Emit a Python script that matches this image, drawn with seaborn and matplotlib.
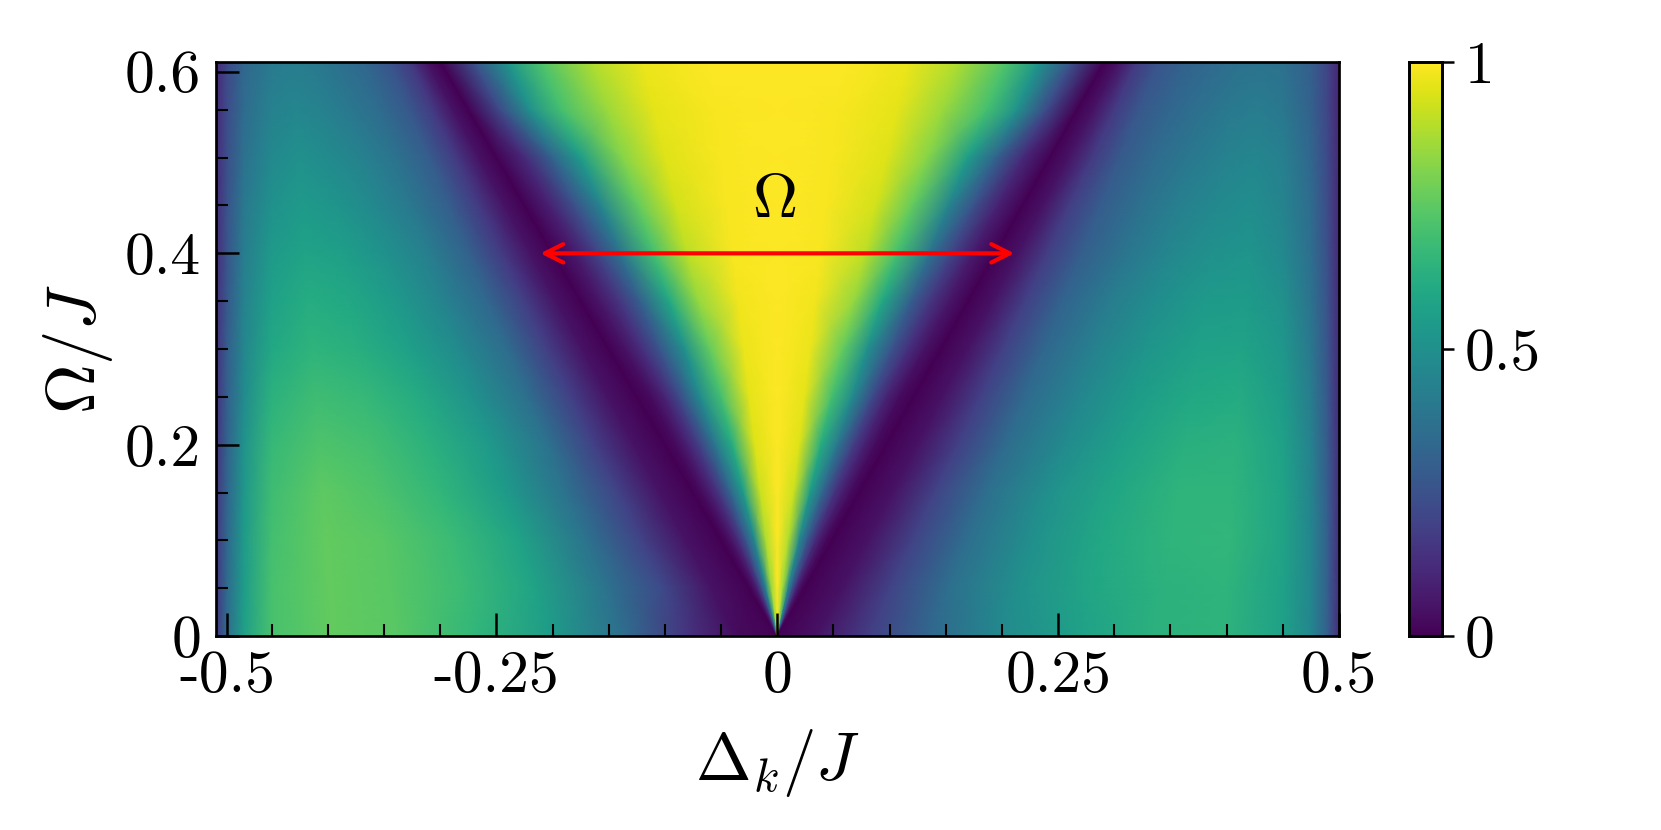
import warnings
import numpy as np
import pandas as pd
import matplotlib
matplotlib.use("Agg")
import matplotlib.pyplot as plt
import matplotlib.transforms as mtransforms
import seaborn as sns

omega_values = [0.0, 0.05, 0.10, 0.15, 0.20, 0.25, 0.30, 0.35, 0.40, 0.45, 0.50, 0.55, 0.60]

# Nodes between the centre (0) and the dip, as a fraction of the dip distance
inner_fractions = [0, .2, .4, .55, .7, .8, .9, 1]
inner_values = [
 [1,.85,.45,.25,.10,.05,.02,0],
 [1,.85,.45,.25,.10,.05,.02,0],
 [1,.88,.47,.27,.12,.06,.02,0],
 [1,.92,.55,.33,.15,.08,.03,0],
 [1,.95,.62,.40,.18,.09,.03,0],
 [1,.96,.70,.48,.22,.10,.03,0],
 [1,.97,.76,.50,.26,.14,.05,0],
 [1,.98,.84,.60,.30,.16,.06,0],
 [1,.99,.90,.70,.38,.20,.07,0],
 [1,.99,.93,.76,.45,.25,.09,0],
 [1,.99,.95,.82,.55,.32,.12,0],
 [1,.99,.96,.85,.70,.50,.22,0],
 [1,1,.97,.88,.72,.52,.25,0],
]
# Nodes outside the dip: fractions of the way to |x| = 0.45, then fixed places near the edge
outer_fractions = [.08, .18, .3, .45, .6, .75, .88, 1]
edge_positions = [.475, .49, .5]
outer_left = [
 [.03,.15,.35,.55,.66,.74,.76,.71,.56,.35,.15],
 [.05,.22,.38,.58,.68,.74,.76,.71,.55,.34,.15],
 [.05,.20,.38,.58,.68,.74,.76,.70,.54,.33,.15],
 [.05,.20,.37,.55,.66,.72,.75,.69,.53,.32,.15],
 [.05,.19,.38,.54,.64,.70,.72,.67,.51,.31,.14],
 [.05,.19,.36,.51,.61,.67,.69,.64,.48,.30,.14],
 [.05,.18,.35,.48,.57,.63,.65,.60,.46,.29,.13],
 [.05,.18,.33,.45,.54,.60,.62,.57,.44,.27,.13],
 [.05,.17,.31,.43,.51,.56,.58,.54,.42,.26,.12],
 [.05,.17,.30,.40,.47,.52,.54,.51,.40,.25,.12],
 [.05,.17,.29,.38,.44,.48,.50,.47,.37,.24,.12],
 [.05,.17,.27,.35,.40,.44,.46,.44,.35,.23,.11],
 [.05,.17,.26,.33,.37,.41,.42,.41,.33,.22,.11],
]
outer_right = [
 [.05,.18,.33,.48,.57,.64,.65,.57,.46,.30,.13],
 [.05,.20,.36,.50,.59,.64,.65,.57,.46,.30,.13],
 [.05,.20,.36,.50,.60,.65,.66,.58,.46,.30,.13],
 [.05,.20,.36,.50,.59,.65,.65,.58,.45,.29,.13],
 [.05,.19,.35,.48,.57,.63,.64,.57,.44,.28,.13],
 [.05,.19,.34,.46,.55,.60,.61,.55,.42,.27,.12],
 [.05,.19,.33,.44,.52,.57,.58,.53,.40,.26,.12],
 [.05,.19,.32,.42,.49,.54,.55,.50,.38,.25,.12],
 [.05,.18,.30,.39,.46,.50,.52,.47,.36,.24,.11],
 [.05,.18,.29,.37,.43,.47,.49,.45,.35,.23,.11],
 [.05,.17,.28,.35,.40,.44,.46,.43,.33,.22,.11],
 [.05,.17,.27,.33,.37,.41,.42,.40,.31,.21,.10],
 [.05,.17,.26,.31,.34,.37,.38,.37,.30,.20,.10],
]
dip_ratio_left = 0.5    # dip sits at |x| = ratio * Omega
dip_ratio_right = 0.485

x_major = [-0.49, -0.25, 0.0, 0.25, 0.5]
x_major_labels = ["-0.5", "-0.25", "0", "0.25", "0.5"]
x_minor = [-0.45, -0.40, -0.35, -0.30, -0.20, -0.15, -0.10, -0.05, 0.05, 0.10, 0.15, 0.20, 0.30, 0.35, 0.40, 0.45]
y_major = [0.0, 0.2, 0.4, 0.59]
y_major_labels = ["0", "0.2", "0.4", "0.6"]
y_minor = [0.05, 0.10, 0.15, 0.25, 0.30, 0.35, 0.45, 0.50, 0.55]
cbar_ticks = [0, 0.5, 1]
cbar_labels = ["0", "0.5", "1"]
arrow_span = [-0.211, 0.211]
arrow_level = 0.4

table = pd.DataFrame([(i + ol)[::-1] + (i + or_)[1:]
                      for i, ol, or_ in zip(inner_values, outer_left, outer_right)])


class NodeToData(mtransforms.Transform):
    """Place the (column, row) nodes of the table at their (Delta_k, Omega) positions."""
    input_dims = 2
    output_dims = 2
    is_separable = False
    has_inverse = False

    def transform_non_affine(self, values):
        values = np.asarray(values, dtype=float)
        centre = (len(table.columns) - 1) / 2
        col = np.rint(values[:, 0]).astype(int)
        row = np.clip(np.rint(values[:, 1]).astype(int), 0, len(omega_values) - 1)
        omega = np.asarray(omega_values)[row]
        dip = np.where(col < centre, dip_ratio_left, dip_ratio_right) * omega
        m = np.abs(col - centre).astype(int)
        n_in = len(inner_fractions)
        n_out = len(outer_fractions)
        fr_in = np.asarray(inner_fractions)
        fr_out = np.asarray(outer_fractions)
        edges = np.asarray(edge_positions)
        x = np.empty_like(omega)
        a = m < n_in
        x[a] = fr_in[m[a]] * dip[a]
        b = (m >= n_in) & (m < n_in + n_out)
        x[b] = dip[b] + fr_out[m[b] - n_in] * (0.45 - dip[b])
        c = m >= n_in + n_out
        x[c] = edges[m[c] - n_in - n_out]
        return np.column_stack([np.sign(col - centre) * x, omega])


sns.set_theme(style="white")
plt.rcParams.update({"mathtext.fontset": "cm", "axes.linewidth": 0.65, "axes.edgecolor": "black"})
warnings.filterwarnings("ignore")

W, H = 1661, 830
fig = plt.figure(figsize=(W / 300, H / 300), dpi=300, facecolor="white")
ax = fig.add_axes([215.6 / W, (H - 636) / H, 1123.4 / W, 574 / H])
cax = fig.add_axes([1409 / W, (H - 636) / H, 33 / W, 574 / H])

sns.heatmap(table, ax=ax, cbar_ax=cax, cmap="viridis", vmin=0, vmax=1, shading="gouraud",
            xticklabels=False, yticklabels=False, linewidths=0, rasterized=True,
            transform=NodeToData() + ax.transData)

ax.set_xlim(-0.5, 0.5)
ax.set_ylim(0, 0.6)
ax.set_axisbelow(False)
ax.set_xticks(x_major, x_major_labels)
ax.set_xticks(x_minor, minor=True)
ax.set_yticks(y_major, y_major_labels)
ax.set_yticks(y_minor, minor=True)
ax.tick_params(which="major", direction="in", length=5.6, width=0.6, color="black", pad=3.5,
               labelsize=14.3, labelcolor="black", bottom=True, left=True)
ax.tick_params(which="minor", direction="in", length=2.9, width=0.5, color="black", bottom=True, left=True)
for lab in ax.get_xticklabels() + ax.get_yticklabels():
    lab.set_family("cmr10")
for s in ax.spines.values():
    s.set_visible(True)
    s.set_linewidth(0.65)
    s.set_color("black")

ax.set_xlabel(r"$\Delta_k/J$", fontsize=16, color="black")
ax.xaxis.set_label_coords(0.5, -0.1577)
ax.set_ylabel(r"$\Omega/J$", fontsize=16.5, color="black")
ax.yaxis.set_label_coords(-0.0895, 0.5)

ax.annotate("", xy=(arrow_span[1], arrow_level), xytext=(arrow_span[0], arrow_level),
            arrowprops=dict(arrowstyle="<->", color="red", lw=1.0, shrinkA=0, shrinkB=0, mutation_scale=11))
ax.text(-0.003, 0.456, r"$\Omega$", fontsize=15, color="black", ha="center", va="center")

cax.set_yticks(cbar_ticks, cbar_labels)
cax.tick_params(axis="y", which="major", direction="out", length=2.9, width=0.6, color="black", pad=2.6,
                labelsize=14.3, labelcolor="black", right=True, left=False)
for lab in cax.get_yticklabels():
    lab.set_family("cmr10")
for s in cax.spines.values():
    s.set_visible(True)
    s.set_linewidth(0.65)
    s.set_color("black")

fig.savefig("out.png", dpi=300, facecolor="white")
